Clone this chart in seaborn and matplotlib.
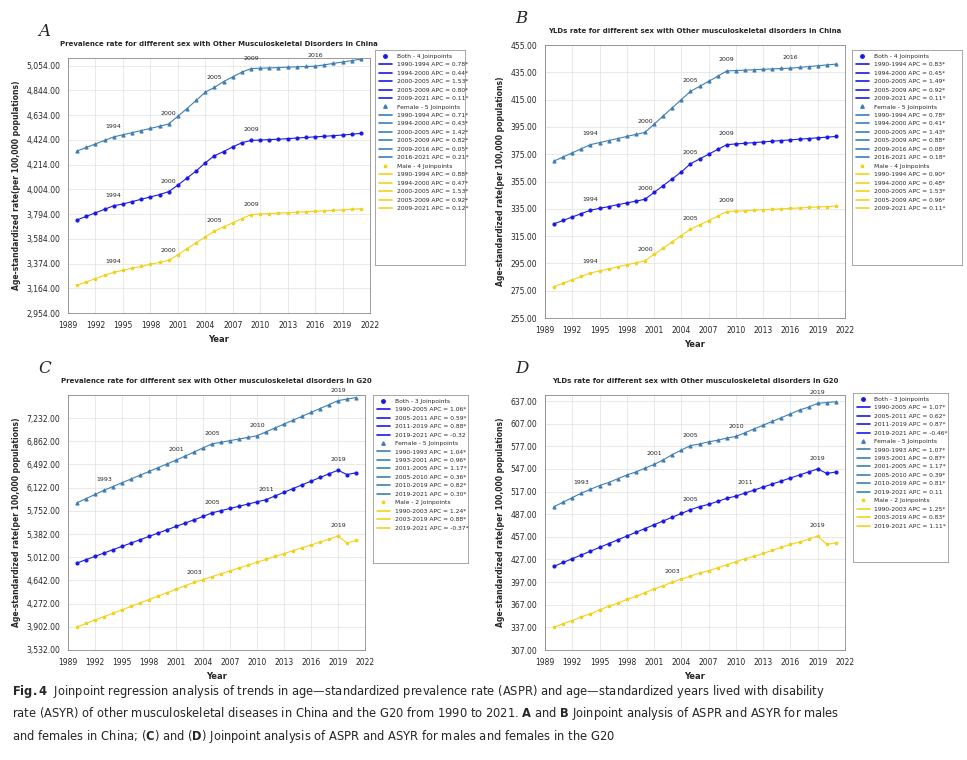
import matplotlib
matplotlib.use("Agg")
import matplotlib.pyplot as plt
from matplotlib.lines import Line2D
from matplotlib.ticker import FuncFormatter
import seaborn as sns
import pandas as pd

years = list(range(1990, 2022))

# Panel A: prevalence, China
a_both = [3745,3775,3805,3835,3865,3880,3900,3920,3940,3960,3985,4040,4100,4160,4230,4290,
          4325,4365,4400,4420,4423,4427,4430,4435,4440,4445,4450,4455,4460,4466,4472,4480]
a_female = [4330,4360,4390,4420,4450,4468,4486,4504,4522,4540,4560,4625,4690,4760,4830,4870,
            4920,4960,5000,5030,5033,5036,5039,5042,5045,5048,5050,5062,5074,5086,5098,5110]
a_male = [3190,3218,3246,3274,3300,3317,3334,3350,3367,3384,3400,3450,3500,3550,3600,3650,
          3685,3720,3755,3790,3794,3798,3802,3806,3810,3814,3818,3822,3826,3830,3835,3840]
# Panel B: YLDs, China
b_both = [324,326.5,329,331.5,334,335.3,336.6,338,339.3,340.6,342,347,352,357,362,368,
          371.5,375,378.5,382,382.5,383,383.5,384,384.5,385,385.5,386,386.5,387,387.5,388]
b_female = [370,373,376,379,382,383.5,385,386.5,388,389.5,391,397,403,409,415,421,
            424.7,428.4,432.1,436,436.3,436.6,436.9,437.2,437.5,437.8,438,438.6,439.2,439.8,440.4,441]
b_male = [278,280.5,283,285.5,288,289.5,291,292.5,294,295.5,297,301.6,306.2,310.8,315.4,320,
          323.2,326.4,329.6,333,333.3,333.6,334,334.3,334.6,335,335.3,335.6,336,336.3,336.6,337]
# Panel C: prevalence, G20
c_both = [4920,4973,5026,5079,5132,5185,5238,5291,5344,5397,5450,5503,5556,5609,5662,5720,
          5755,5790,5825,5860,5895,5930,5989,6048,6107,6166,6225,6284,6343,6400,6330,6360]
c_female = [5880,5947,6013,6080,6140,6200,6260,6320,6380,6440,6500,6560,6625,6690,6755,6820,
            6846,6872,6898,6924,6950,7012,7074,7136,7198,7260,7322,7384,7446,7510,7535,7560]
c_male = [3900,3955,4010,4064,4119,4173,4228,4282,4337,4392,4446,4501,4555,4610,4656,4702,
          4748,4794,4840,4886,4932,4978,5024,5070,5116,5162,5208,5254,5300,5350,5240,5280]
# Panel D: YLDs, G20
d_both = [418,423,428,433,438,443,448,453,458,463,468,473,478,483,488,493,
          497,500,504,508,511,515,519,523,527,531,535,539,543,547,541,543]
d_female = [497,503,509,515,520,525,529,534,539,543,548,553,559,566,572,578,
            580,583,585,588,590,595,600,605,610,615,620,625,629,634,635,636]
d_male = [337,342,346,351,355,360,365,369,374,378,383,388,392,397,401,405,
          409,412,416,420,424,428,431,435,439,443,447,450,454,458,447,449]

legend_a = (["1990-1994 APC = 0.78*", "1994-2000 APC = 0.44*", "2000-2005 APC = 1.53*", "2005-2009 APC = 0.80*", "2009-2021 APC = 0.11*"],
            ["1990-1994 APC = 0.71*", "1994-2000 APC = 0.43*", "2000-2005 APC = 1.42*", "2005-2009 APC = 0.82*", "2009-2016 APC = 0.05*", "2016-2021 APC = 0.21*"],
            ["1990-1994 APC = 0.88*", "1994-2000 APC = 0.47*", "2000-2005 APC = 1.53*", "2005-2009 APC = 0.92*", "2009-2021 APC = 0.12*"])
legend_b = (["1990-1994 APC = 0.83*", "1994-2000 APC = 0.45*", "2000-2005 APC = 1.49*", "2005-2009 APC = 0.92*", "2009-2021 APC = 0.11*"],
            ["1990-1994 APC = 0.78*", "1994-2000 APC = 0.41*", "2000-2005 APC = 1.43*", "2005-2009 APC = 0.88*", "2009-2016 APC = 0.08*", "2016-2021 APC = 0.18*"],
            ["1990-1994 APC = 0.90*", "1994-2000 APC = 0.48*", "2000-2005 APC = 1.53*", "2005-2009 APC = 0.96*", "2009-2021 APC = 0.11*"])
legend_c = (["1990-2005 APC = 1.06*", "2005-2011 APC = 0.59*", "2011-2019 APC = 0.88*", "2019-2021 APC = -0.32"],
            ["1990-1993 APC = 1.04*", "1993-2001 APC = 0.96*", "2001-2005 APC = 1.17*", "2005-2010 APC = 0.36*", "2010-2019 APC = 0.82*", "2019-2021 APC = 0.30*"],
            ["1990-2003 APC = 1.24*", "2003-2019 APC = 0.88*", "2019-2021 APC = -0.37*"])
legend_d = (["1990-2005 APC = 1.07*", "2005-2011 APC = 0.62*", "2011-2019 APC = 0.87*", "2019-2021 APC = -0.46*"],
            ["1990-1993 APC = 1.07*", "1993-2001 APC = 0.87*", "2001-2005 APC = 1.17*", "2005-2010 APC = 0.39*", "2010-2019 APC = 0.81*", "2019-2021 APC = 0.11"],
            ["1990-2003 APC = 1.25*", "2003-2019 APC = 0.83*", "2019-2021 APC = 1.11*"])

joins_a = ([1994, 2000, 2009], [1994, 2000, 2005, 2009, 2016], [1994, 2000, 2005, 2009])
joins_b = ([1994, 2000, 2005, 2009], [1994, 2000, 2005, 2009, 2016], [1994, 2000, 2005, 2009])
joins_c = ([2005, 2011, 2019], [1993, 2001, 2005, 2010, 2019], [2003, 2019])
joins_d = ([2005, 2011, 2019], [1993, 2001, 2005, 2010, 2019], [2003, 2019])

sns.set_style("white")
plt.rcParams['font.family'] = ['DejaVu Sans']

C_BOTH, C_FEM, C_MALE = "#1a1ae6", "#3f7fb5", "#f2d21c"
fig = plt.figure(figsize=(9.67, 7.6), dpi=100)
W, H = 967, 760


def box(x0, y0, x1, y1):
    return [x0 / W, 1 - y1 / H, (x1 - x0) / W, (y1 - y0) / H]


def panel(rect, letter, title, series, joins, yticks, ylim, legend_txt, leg_rect, njp):
    ax = fig.add_axes(box(*rect))
    rows = []
    for name, vals in zip(["Both", "Female", "Male"], series):
        rows += [{"Year": y, "v": v, "s": name} for y, v in zip(years, vals)]
    df = pd.DataFrame(rows)
    pal = {"Both": C_BOTH, "Female": C_FEM, "Male": C_MALE}
    sns.lineplot(data=df, x="Year", y="v", hue="s", palette=pal, lw=0.8, ax=ax, legend=False)
    for name, mk in zip(["Both", "Female", "Male"], ["o", "^", "*"]):
        sub = df[df.s == name]
        ax.scatter(sub.Year, sub.v, color=pal[name], marker=mk, s=4, zorder=3)
    span = ylim[1] - ylim[0]
    for vals, js in zip(series, joins):
        for j in js:
            ax.text(j, vals[j - 1990] + span * 0.035, str(j), fontsize=4.5, ha="center")
    ax.set_xlim(1989, 2022)
    ax.set_xticks(range(1989, 2023, 3))
    ax.set_yticks(yticks)
    ax.set_ylim(*ylim)
    ax.yaxis.set_major_formatter(FuncFormatter(lambda v, p: f"{v:,.2f}"))
    ax.tick_params(labelsize=5.5, length=2)
    ax.grid(True, color="#e0e0e0", lw=0.5)
    ax.set_xlabel("Year", fontsize=6, fontweight="bold")
    ax.set_ylabel("Age-standardized rate(per 100,000 populations)", fontsize=5.5, fontweight="bold")
    fig.text((rect[0] + rect[2]) / 2 / W, 1 - (rect[1] - 12) / H, title, fontsize=5,
             fontweight="bold", ha="center")
    for s in ax.spines.values():
        s.set_color("#888888")
        s.set_linewidth(0.6)
    fig.text((rect[0] - 30) / W, 1 - (rect[1] - 22) / H, letter, fontsize=12, style="italic", family="serif")
    # legend
    lax = fig.add_axes(box(*leg_rect))
    lax.set_xticks([])
    lax.set_yticks([])
    for s in lax.spines.values():
        s.set_color("#999999")
        s.set_linewidth(0.6)
    handles, labels = [], []
    for name, mk, col, txts, n in zip(["Both", "Female", "Male"], ["o", "^", "*"], [C_BOTH, C_FEM, C_MALE], legend_txt, njp):
        handles.append(Line2D([], [], marker=mk, color=col, ls="", ms=2.5))
        labels.append(f"{name} - {n} Joinpoints")
        for t in txts:
            handles.append(Line2D([], [], color=col, lw=1.2))
            labels.append(t)
    lax.legend(handles, labels, loc="upper left", fontsize=4.3, frameon=False, handlelength=2.2,
               labelspacing=0.55, borderaxespad=0.2)


panel((68, 58, 370, 313), "A", "Prevalence rate for different sex with Other Musculoskeletal Disorders in China",
      [a_both, a_female, a_male], joins_a, list(range(2954, 5055, 210)), (2954, 5120), legend_a,
      (375, 50, 465, 265), [4, 5, 4])
panel((545, 45, 845, 318), "B", "YLDs rate for different sex with Other musculoskeletal disorders in China",
      [b_both, b_female, b_male], joins_b, list(range(255, 456, 20)), (255, 455), legend_b,
      (852, 50, 962, 265), [4, 5, 4])
panel((68, 395, 365, 650), "C", "Prevalence rate for different sex with Other musculoskeletal disorders in G20",
      [c_both, c_female, c_male], joins_c, list(range(3532, 7233, 370)), (3532, 7600), legend_c,
      (373, 395, 468, 563), [3, 5, 2])
panel((545, 395, 845, 650), "D", "YLDs rate for different sex with Other musculoskeletal disorders in G20",
      [d_both, d_female, d_male], joins_d, list(range(307, 638, 30)), (307, 645), legend_d,
      (853, 393, 948, 562), [3, 5, 2])

caption = ("$\\bf{Fig. 4}$  Joinpoint regression analysis of trends in age—standardized prevalence rate (ASPR) and age—standardized years lived with disability\n"
           "rate (ASYR) of other musculoskeletal diseases in China and the G20 from 1990 to 2021. $\\bf{A}$ and $\\bf{B}$ Joinpoint analysis of ASPR and ASYR for males\n"
           "and females in China; ($\\bf{C}$) and ($\\bf{D}$) Joinpoint analysis of ASPR and ASYR for males and females in the G20")
fig.text(12 / W, 1 - 683 / H, caption, fontsize=8.3, va="top", linespacing=1.45)

fig.savefig("out.png", dpi=100)
